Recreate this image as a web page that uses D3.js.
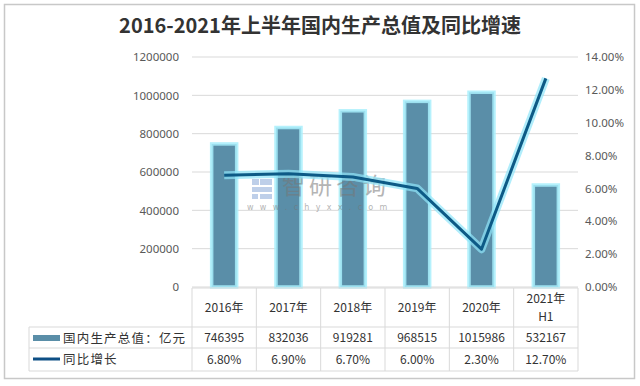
<!DOCTYPE html>
<html>
<head>
<meta charset="utf-8">
<script src="https://cdn.jsdelivr.net/npm/d3@7"></script>
<style>
	body { margin: 0; background: #fff; }
	svg { display: block; font-family: "Noto Sans CJK SC", "Noto Sans", sans-serif; }
</style>
</head>
<body>
<div id="chart"></div>
<script>
// data
const years = ["2016年", "2017年", "2018年", "2019年", "2020年", "2021年\nH1"];
const gdp = [746395, 832036, 919281, 968515, 1015986, 532167];
const growth = [6.8, 6.9, 6.7, 6.0, 2.3, 12.7];
const gdpTicks = [0, 200000, 400000, 600000, 800000, 1000000, 1200000];
const pctTicks = [0, 2, 4, 6, 8, 10, 12, 14];
const seriesNames = ["国内生产总值：亿元", "同比增长"];

const W = 640, H = 386;
const margin = {top: 57, left: 192, right: 62, bottom: 99};
const pw = W - margin.left - margin.right;
const ph = H - margin.top - margin.bottom;

const svg = d3.select("#chart").append("svg")
	.attr("width", W)
	.attr("height", H);

// frame
svg.append("rect")
	.attr("x", 4.5).attr("y", 4.5)
	.attr("width", 630).attr("height", 374)
	.attr("fill", "none")
	.attr("stroke", "#c8c8c8")
	.attr("stroke-width", 1.5);

svg.append("text")
	.attr("x", 320).attr("y", 33)
	.attr("text-anchor", "middle")
	.attr("font-size", 20)
	.attr("font-weight", "bold")
	.attr("fill", "#333")
	.text("2016-2021年上半年国内生产总值及同比增速");

const g = svg.append("g").attr("transform", `translate(${margin.left},${margin.top})`);

const x = d3.scaleBand().domain(years).range([0, pw]).paddingInner(0.6).paddingOuter(0.3);
const xb = d3.scaleBand().domain(years).range([0, pw]);
const y = d3.scaleLinear().domain([0, 1200000]).range([ph, 0]);
const y2 = d3.scaleLinear().domain([0, 14]).range([ph, 0]);

// gridlines
g.append("g")
	.selectAll("line")
	.data(gdpTicks)
	.join("line")
	.attr("x1", 0).attr("x2", pw)
	.attr("y1", d => y(d)).attr("y2", d => y(d))
	.attr("stroke", "#d9d9d9");

// left axis
const yAxis = d3.axisLeft(y).tickValues(gdpTicks).tickSize(0).tickPadding(13).tickFormat(d3.format("d"));
g.append("g").call(yAxis)
	.call(a => a.select(".domain").remove())
	.selectAll("text").attr("font-size", 11.5).attr("fill", "#595959")
	.attr("font-family", "'Noto Sans', sans-serif");

// right axis
const y2Axis = d3.axisRight(y2).tickValues(pctTicks).tickSize(0).tickPadding(7).tickFormat(d => d.toFixed(2) + "%");
g.append("g").attr("transform", `translate(${pw},0)`).call(y2Axis)
	.call(a => a.select(".domain").remove())
	.selectAll("text").attr("font-size", 11.5).attr("fill", "#595959")
	.attr("font-family", "'Noto Sans', sans-serif");

// bars with glow
g.append("g")
	.selectAll("rect")
	.data(gdp)
	.join("rect")
	.attr("x", (d, i) => x(years[i]) + (x.bandwidth() - 25) / 2)
	.attr("width", 25)
	.attr("y", d => y(d))
	.attr("height", d => ph - y(d))
	.attr("fill", "#5a8ea8")
	.attr("stroke", "#a8eefc")
	.attr("stroke-width", 3.5)
	.attr("stroke-opacity", 0.85);

// watermark
const wm = g.append("g").attr("opacity", 0.55);
wm.append("rect").attr("x", 60).attr("y", 122).attr("width", 7).attr("height", 6).attr("fill", "#8aa8d8");
wm.append("rect").attr("x", 68).attr("y", 122).attr("width", 12).attr("height", 6).attr("fill", "#8aa8d8");
wm.append("rect").attr("x", 60).attr("y", 130).attr("width", 20).attr("height", 5).attr("fill", "#8aa8d8");
wm.append("rect").attr("x", 60).attr("y", 137).attr("width", 6).attr("height", 5).attr("fill", "#8aa8d8");
wm.append("rect").attr("x", 68).attr("y", 137).attr("width", 12).attr("height", 5).attr("fill", "#8aa8d8");
wm.append("text").attr("x", 90).attr("y", 137)
	.attr("font-size", 23).attr("fill", "#777").attr("letter-spacing", 4)
	.text("智研咨询");
wm.append("text").attr("x", 55).attr("y", 153)
	.attr("font-size", 8).attr("fill", "#777").attr("letter-spacing", 6.3)
	.attr("font-family", "'DejaVu Sans', sans-serif")
	.text("www.chyxx.com");

// line with glow
const line = d3.line()
	.x((d, i) => xb(years[i]) + xb.bandwidth() / 2)
	.y(d => y2(d));
g.append("path").datum(growth)
	.attr("d", line)
	.attr("fill", "none")
	.attr("stroke", "#8fe6fa")
	.attr("stroke-width", 8)
	.attr("stroke-opacity", 0.7)
	.attr("stroke-linejoin", "round");
g.append("path").datum(growth)
	.attr("d", line)
	.attr("fill", "none")
	.attr("stroke", "#0d5a86")
	.attr("stroke-width", 3)
	.attr("stroke-linejoin", "round");

// data table
const rowTop = ph + 1, r1 = 39, r2 = 21, r3 = 23;
const tableLeft = 29 - margin.left;
const tbl = g.append("g").attr("stroke", "#d9d9d9").attr("stroke-width", 1);
// vertical lines
tbl.selectAll("line.v")
	.data(d3.range(years.length + 1))
	.join("line").attr("class", "v")
	.attr("x1", i => i * xb.bandwidth()).attr("x2", i => i * xb.bandwidth())
	.attr("y1", rowTop).attr("y2", rowTop + r1 + r2 + r3);
tbl.append("line").attr("x1", tableLeft).attr("x2", tableLeft)
	.attr("y1", rowTop + r1).attr("y2", rowTop + r1 + r2 + r3);
// horizontal lines
tbl.append("line").attr("x1", 0).attr("x2", pw).attr("y1", rowTop).attr("y2", rowTop);
[r1, r1 + r2, r1 + r2 + r3].forEach(off => {
	tbl.append("line").attr("x1", tableLeft).attr("x2", pw)
		.attr("y1", rowTop + off).attr("y2", rowTop + off);
});

// header text
const hdr = g.append("g").attr("font-size", 12).attr("fill", "#333").attr("text-anchor", "middle");
years.forEach((yr, i) => {
	const parts = yr.split("\n");
	const cx = xb(yr) + xb.bandwidth() / 2;
	const t = hdr.append("text").attr("x", cx);
	if (parts.length === 1) {
		t.attr("y", rowTop + 24).text(parts[0]);
	} else {
		t.append("tspan").attr("x", cx).attr("y", rowTop + 15).text(parts[0]);
		t.append("tspan").attr("x", cx).attr("y", rowTop + 33).text(parts[1]);
	}
});

// value rows
const vals = g.append("g").attr("font-size", 12).attr("fill", "#333").attr("text-anchor", "middle");
gdp.forEach((v, i) => {
	vals.append("text")
		.attr("x", xb(years[i]) + xb.bandwidth() / 2)
		.attr("y", rowTop + r1 + 15)
		.text(v);
});
growth.forEach((v, i) => {
	vals.append("text")
		.attr("x", xb(years[i]) + xb.bandwidth() / 2)
		.attr("y", rowTop + r1 + r2 + 16)
		.text(v.toFixed(2) + "%");
});

// legend cells
const lg = g.append("g");
lg.append("rect")
	.attr("x", tableLeft + 4).attr("y", rowTop + r1 + 8)
	.attr("width", 27).attr("height", 6)
	.attr("fill", "#5a8ea8");
lg.append("line")
	.attr("x1", tableLeft + 4).attr("x2", tableLeft + 31)
	.attr("y1", rowTop + r1 + r2 + 11).attr("y2", rowTop + r1 + r2 + 11)
	.attr("stroke", "#0d4f85").attr("stroke-width", 3);
lg.append("text")
	.attr("x", tableLeft + 34).attr("y", rowTop + r1 + 16)
	.attr("font-size", 12.5).attr("fill", "#333").attr("letter-spacing", 1.2)
	.text(seriesNames[0]);
lg.append("text")
	.attr("x", tableLeft + 34).attr("y", rowTop + r1 + r2 + 16)
	.attr("font-size", 12.5).attr("fill", "#333").attr("letter-spacing", 1.2)
	.text(seriesNames[1]);
</script>
</body>
</html>
